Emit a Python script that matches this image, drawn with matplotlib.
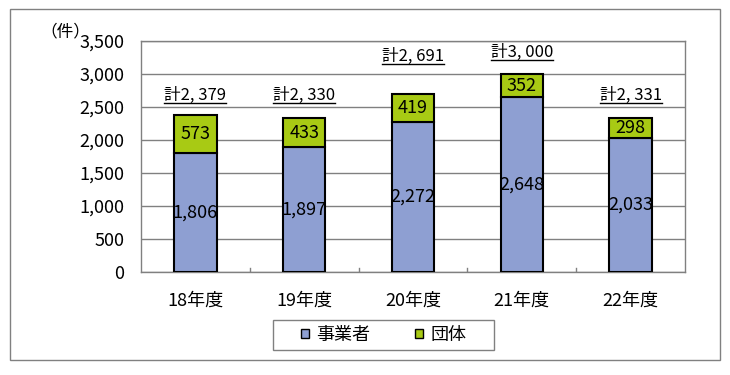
import matplotlib
matplotlib.use("Agg")
import matplotlib.pyplot as plt
from matplotlib.patches import Rectangle
from matplotlib.lines import Line2D

plt.rcParams['font.family'] = ['Noto Sans CJK JP', 'DejaVu Sans']

categories = ['18年度', '19年度', '20年度', '21年度', '22年度']
jigyosha = [1806, 1897, 2272, 2648, 2033]
dantai = [573, 433, 419, 352, 298]
totals = [2379, 2330, 2691, 3000, 2331]
total_label_offsets = [300, 350, 570, 330, 350]
yticks = [0, 500, 1000, 1500, 2000, 2500, 3000, 3500]
series_names = ['事業者', '団体']

blue = '#8E9FD2'
green = '#A8CA14'

fig = plt.figure(figsize=(7.3, 3.75), dpi=100)
# outer border
fig.patches.append(Rectangle((10/730, 1-360/375), 710/730, 351/375, transform=fig.transFigure,
                             fill=False, edgecolor='#808080', lw=1.0))

ax = fig.add_axes([141/730, 1-272/375, 544/730, 231/375])
x = list(range(len(categories)))
w = 0.39
ax.bar(x, jigyosha, width=w, color=blue, edgecolor='black', lw=1.5, zorder=3)
ax.bar(x, dantai, width=w, bottom=jigyosha, color=green, edgecolor='black', lw=1.5, zorder=3)

for i in x:
    ax.text(i, jigyosha[i] / 2, f'{jigyosha[i]:,}', ha='center', va='center', fontsize=13, zorder=4)
    ax.text(i, jigyosha[i] + dantai[i] / 2, f'{dantai[i]:,}', ha='center', va='center', fontsize=13, zorder=4)

ax.set_xlim(-0.5, len(categories) - 0.5)
ax.set_ylim(0, 3500)
ax.set_yticks(yticks)
ax.set_yticklabels([f'{v:,}' for v in yticks], fontsize=13)
ax.set_xticks(x)
ax.set_xticklabels(categories, fontsize=13)
ax.tick_params(axis='y', length=0, pad=12)
ax.tick_params(axis='x', length=0, pad=14)
for b in [0.5, 1.5, 2.5, 3.5]:
    ax.plot([b, b], [0, 60], color='#808080', lw=1, zorder=2)
ax.grid(axis='y', color='#808080', lw=1, zorder=0)
for s in ax.spines.values():
    s.set_color('#808080')
    s.set_linewidth(1)

total_texts = []
for i in x:
    t = ax.text(i, totals[i] + total_label_offsets[i], f'計{totals[i] // 1000},{totals[i] % 1000:03d}'.replace(',', ', '),
                ha='center', va='center', fontsize=12, zorder=4)
    total_texts.append(t)

fig.text(40/730, 1-32/375, '（件）', fontsize=12, ha='left', va='center')

# legend box
lx0, ly0, lw_, lh = 273/730, 1-350/375, 221/730, 30/375
fig.patches.append(Rectangle((lx0, ly0), lw_, lh, transform=fig.transFigure,
                             fill=False, edgecolor='#808080', lw=1.0))
handles = [Rectangle((0, 0), 1, 1, facecolor=blue, edgecolor='black', lw=1),
           Rectangle((0, 0), 1, 1, facecolor=green, edgecolor='black', lw=1)]
leg = fig.legend(handles, series_names, loc='center', bbox_to_anchor=(lx0 + lw_/2, ly0 + lh/2),
                 ncol=2, frameon=False, fontsize=13, handlelength=0.45, handleheight=0.45,
                 columnspacing=2.5, handletextpad=0.4)

fig.canvas.draw()
r = fig.canvas.get_renderer()
inv = fig.transFigure.inverted()
for t in total_texts:
    bb = t.get_window_extent(renderer=r)
    (x0, y0) = inv.transform((bb.x0, bb.y0 + 1))
    (x1, _) = inv.transform((bb.x1, bb.y0 + 1))
    fig.lines.append(Line2D([x0, x1], [y0, y0], transform=fig.transFigure, color='black', lw=1))

fig.savefig('out.png', dpi=100)
